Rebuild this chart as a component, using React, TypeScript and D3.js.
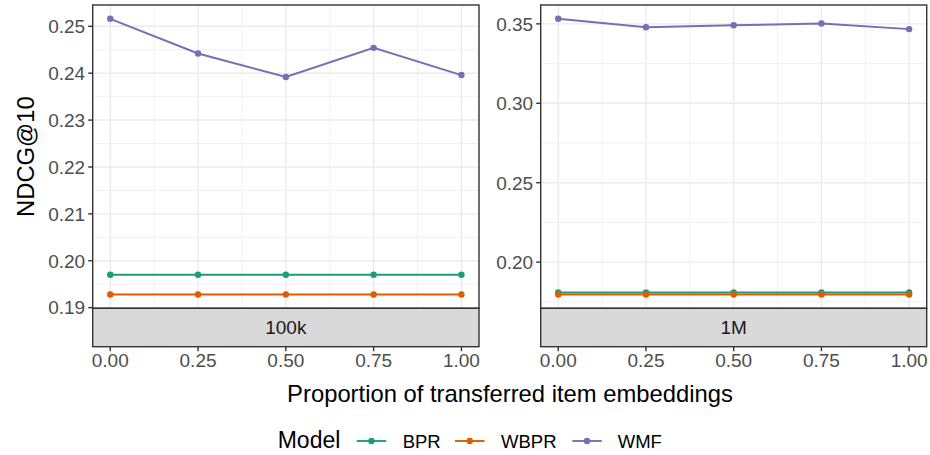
import React from "react";
import * as d3 from "d3";

const proportions = [0, 0.25, 0.5, 0.75, 1];
const xTicks = [0, 0.25, 0.5, 0.75, 1];
const models = ["BPR", "WBPR", "WMF"];
const colors = ["#1B9E77", "#D95F02", "#7570B3"];

// 100k panel
const bpr100k = [0.197, 0.197, 0.197, 0.197, 0.197];
const wbpr100k = [0.1928, 0.1928, 0.1928, 0.1928, 0.1928];
const wmf100k = [0.2516, 0.2442, 0.2392, 0.2454, 0.2396];
const yTicks100k = [0.19, 0.2, 0.21, 0.22, 0.23, 0.24, 0.25];

// 1M panel
const bpr1m = [0.1809, 0.1809, 0.1809, 0.1809, 0.1809];
const wbpr1m = [0.1796, 0.1796, 0.1796, 0.1796, 0.1796];
const wmf1m = [0.3532, 0.3479, 0.3491, 0.3502, 0.3467];
const yTicks1m = [0.2, 0.25, 0.3, 0.35];

const panels = [
  { label: "100k", series: [bpr100k, wbpr100k, wmf100k], ticks: yTicks100k, left: 92.7, right: 479 },
  { label: "1M", series: [bpr1m, wbpr1m, wmf1m], ticks: yTicks1m, left: 540.7, right: 926.7 },
];

const W = 930;
const H = 455;
const top = 5;
const panelBottom = 308.3;
const stripBottom = 346.7;
const font = "'Liberation Sans', Arial, Helvetica, sans-serif";
const tickSize = 19;
const titleSize = 23.8;

function expand(lo: number, hi: number) {
  const d = (hi - lo) * 0.05;
  return [lo - d, hi + d];
}

function minorOf(major: number[]) {
  const step = major[1] - major[0];
  const out: number[] = [major[0] - step / 2];
  major.forEach((m) => out.push(m + step / 2));
  return out;
}

function Panel({ p }: { p: (typeof panels)[number] }) {
  const x = d3.scaleLinear().domain([-0.05, 1.05]).range([p.left, p.right]);
  const all = p.series.flat();
  const y = d3
    .scaleLinear()
    .domain(expand(d3.min(all)!, d3.max(all)!))
    .range([panelBottom, top]);
  const [y0, y1] = y.domain();
  const yMinor = minorOf(p.ticks).filter((v) => v > y0 && v < y1);
  const xMinor = minorOf(xTicks).filter((v) => v > -0.05 && v < 1.05);
  const line = d3
    .line<number>()
    .x((_, i) => x(proportions[i]))
    .y((d) => y(d));
  const cx = (p.left + p.right) / 2;

  return (
    <g>
      <rect x={p.left} y={top} width={p.right - p.left} height={panelBottom - top} fill="#fff" />
      {yMinor.map((v) => (
        <line key={"ym" + v} x1={p.left} x2={p.right} y1={y(v)} y2={y(v)} stroke="#EBEBEB" strokeWidth={0.7} />
      ))}
      {xMinor.map((v) => (
        <line key={"xm" + v} x1={x(v)} x2={x(v)} y1={top} y2={panelBottom} stroke="#EBEBEB" strokeWidth={0.7} />
      ))}
      {p.ticks.map((v) => (
        <line key={"yM" + v} x1={p.left} x2={p.right} y1={y(v)} y2={y(v)} stroke="#EBEBEB" strokeWidth={1.4} />
      ))}
      {xTicks.map((v) => (
        <line key={"xM" + v} x1={x(v)} x2={x(v)} y1={top} y2={panelBottom} stroke="#EBEBEB" strokeWidth={1.4} />
      ))}
      {p.series.map((s, k) => (
        <g key={models[k]}>
          <path d={line(s) || ""} fill="none" stroke={colors[k]} strokeWidth={1.9} />
          {s.map((v, i) => (
            <circle key={i} cx={x(proportions[i])} cy={y(v)} r={3.2} fill={colors[k]} />
          ))}
        </g>
      ))}
      <rect x={p.left} y={top} width={p.right - p.left} height={panelBottom - top} fill="none" stroke="#333333" strokeWidth={1.4} />
      {/* strip */}
      <rect x={p.left} y={panelBottom} width={p.right - p.left} height={stripBottom - panelBottom} fill="#D9D9D9" stroke="#333333" strokeWidth={1.4} />
      <text x={cx} y={(panelBottom + stripBottom) / 2} dy="0.36em" textAnchor="middle" fontSize={tickSize} fill="#1A1A1A">
        {p.label}
      </text>
      {/* y axis */}
      {p.ticks.map((v) => (
        <g key={"yt" + v}>
          <line x1={p.left - 4.5} x2={p.left} y1={y(v)} y2={y(v)} stroke="#333333" strokeWidth={1.4} />
          <text x={p.left - 7.5} y={y(v)} dy="0.36em" textAnchor="end" fontSize={tickSize} fill="#4D4D4D">
            {d3.format(".2f")(v)}
          </text>
        </g>
      ))}
      {/* x axis */}
      {xTicks.map((v) => (
        <g key={"xt" + v}>
          <line x1={x(v)} x2={x(v)} y1={stripBottom} y2={stripBottom + 4.5} stroke="#333333" strokeWidth={1.4} />
          <text x={x(v)} y={stripBottom + 7} dy="0.71em" textAnchor="middle" fontSize={tickSize} fill="#4D4D4D">
            {d3.format(".2f")(v)}
          </text>
        </g>
      ))}
    </g>
  );
}

const legendX = [356.7, 455, 572.3];
const legendLabelX = [402.7, 501, 617.7];

export default function App() {
  return (
    <svg width={W} height={H} style={{ position: "absolute", left: 0, top: 0 }} fontFamily={font}>
      <rect width={W} height={H} fill="#fff" />
      {panels.map((p) => (
        <Panel key={p.label} p={p} />
      ))}
      <text x={510} y={393} dy="0.36em" textAnchor="middle" fontSize={titleSize} fill="#000">
        Proportion of transferred item embeddings
      </text>
      <text transform={`translate(25,${(top + panelBottom) / 2}) rotate(-90)`} dy="0.36em" textAnchor="middle" fontSize={titleSize} fill="#000">
        NDCG@10
      </text>
      <g>
        <text x={277.7} y={440} dy="0.36em" fontSize={23} fill="#000">
          Model
        </text>
        {models.map((m, k) => (
          <g key={m}>
            <line x1={legendX[k]} x2={legendX[k] + 29.5} y1={441} y2={441} stroke={colors[k]} strokeWidth={1.9} />
            <circle cx={legendX[k] + 14.75} cy={441} r={3.2} fill={colors[k]} />
            <text x={legendLabelX[k]} y={441} dy="0.36em" fontSize={18.5} fill="#000">
              {m}
            </text>
          </g>
        ))}
      </g>
    </svg>
  );
}
